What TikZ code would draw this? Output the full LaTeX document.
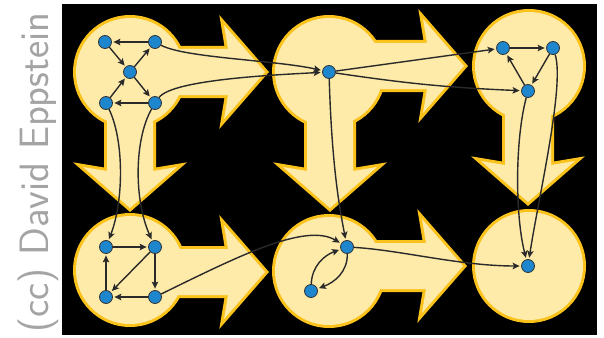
\documentclass[tikz,border=0pt]{standalone}
\usetikzlibrary{arrows.meta}
\definecolor{bgyel}{HTML}{FEEAA9}
\definecolor{goldc}{HTML}{FBC21B}
\definecolor{nodeblue}{HTML}{1E86CD}
\definecolor{edgec}{HTML}{2A2A2A}
\definecolor{txtgray}{HTML}{A4A4A4}
\newcommand\harrowpath[3]{(#1,#2-23) -- (#3-37,#2-23) -- (#3-41,#2-47) -- (#3,#2) -- (#3-41,#2+47) -- (#3-37,#2+23) -- (#1,#2+23) -- cycle}
\newcommand\varrowpath[3]{(#1-23,#2) -- (#1-23,#3-37) -- (#1-47,#3-41) -- (#1,#3) -- (#1+47,#3-41) -- (#1+23,#3-37) -- (#1+23,#2) -- cycle}
\newcommand\doshapes[1]{%
 #1 (130,72) circle (54); #1 (329,72) circle (54); #1 (529,66) circle (54);
 #1 (130,270) circle (54); #1 (329,271) circle (54); #1 (529,266) circle (54);
 #1 \harrowpath{130}{72}{265}; #1 \harrowpath{329}{66}{464};
 #1 \harrowpath{130}{272}{265}; #1 \harrowpath{329}{266}{463};
 #1 \varrowpath{130}{72}{208}; #1 \varrowpath{330}{72}{208}; #1 \varrowpath{528}{66}{202};}
\begin{document}
\begin{tikzpicture}[x=1pt,y=-1pt,
 gn/.style={circle,fill=nodeblue,draw=black!80,line width=0.8pt,minimum size=13pt,inner sep=0pt},
 ed/.style={draw=edgec,line width=1.4pt,-{Stealth[length=7pt,width=6.5pt,inset=1.5pt]},shorten >=1.5pt},
 ]
\useasboundingbox (0,0) rectangle (604,337);
\fill[white] (0,0) rectangle (604,337);
\fill[black] (62,4) rectangle (597,335);
\doshapes{\draw[goldc,line width=6pt,miter limit=12]}
\doshapes{\fill[bgyel]}

\node[rotate=90,anchor=base west,text=txtgray,font=\sffamily\fontsize{41}{41}\selectfont,inner sep=0pt] (cr) at (48,333) {(cc) David Eppstein};

% top-left
\node[gn] (a) at (105,42) {};
\node[gn] (b) at (155,42) {};
\node[gn] (c) at (130,72) {};
\node[gn] (d) at (106,103) {};
\node[gn] (e) at (155,103) {};
% top-middle
\node[gn] (m) at (329,72) {};
% top-right
\node[gn] (t1) at (503,48) {};
\node[gn] (t2) at (553,48) {};
\node[gn] (t3) at (528,91) {};
% bottom-left
\node[gn] (p) at (106,247) {};
\node[gn] (q) at (155,247) {};
\node[gn] (r) at (106,297) {};
\node[gn] (s) at (155,297) {};
% bottom-middle
\node[gn] (u) at (347,247) {};
\node[gn] (v) at (311,291) {};
% bottom-right
\node[gn] (w) at (528,266) {};

\draw[ed] (b) -- (a);
\draw[ed] (a) -- (c);
\draw[ed] (c) -- (b);
\draw[ed] (c) -- (e);
\draw[ed] (d) -- (c);
\draw[ed] (e) -- (d);
\draw[ed] (b) .. controls (185,58) and (275,60) .. (m);
\draw[ed] (e) .. controls (172,80) and (270,75) .. (m);
\draw[ed] (d) .. controls (124,140) and (124,200) .. (p);
\draw[ed] (e) .. controls (134,140) and (134,200) .. (q);

\draw[ed] (m) -- (t1);
\draw[ed] (m) to[bend right=3] (t3);
\draw[ed] (m) .. controls (332,170) and (340,210) .. (u);

\draw[ed] (t1) -- (t2);
\draw[ed] (t2) -- (t3);
\draw[ed] (t3) -- (t1);
\draw[ed] (t3) .. controls (515,140) and (515,215) .. (w);
\draw[ed] (t2) .. controls (565,85) and (538,200) .. (w);

\draw[ed] (p) -- (q);
\draw[ed] (q) -- (r);
\draw[ed] (q) -- (s);
\draw[ed] (s) -- (r);
\draw[ed] (r) -- (p);
\draw[ed] (s) .. controls (235,258) and (305,222) .. (u);

\draw[ed] (v) to[out=88,in=200] (u);
\draw[ed] (u) to[out=-88,in=20] (v);
\draw[ed] (u) .. controls (400,250) and (460,266) .. (w);
\end{tikzpicture}
\end{document}
